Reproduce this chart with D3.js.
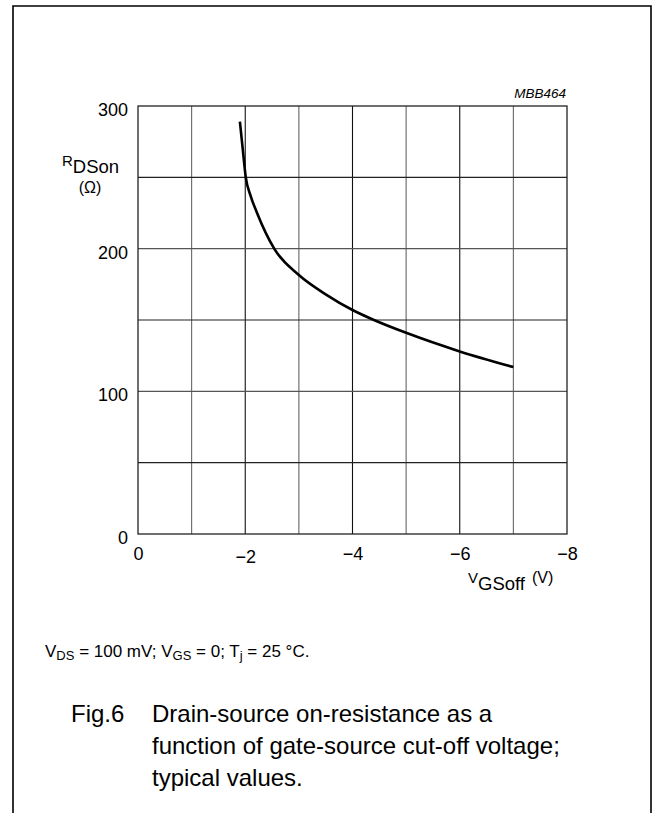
<!DOCTYPE html>
<html>
<head>
<meta charset="utf-8">
<script src="https://cdn.jsdelivr.net/npm/d3@7"></script>
<style>
  body { margin: 0; background: #fff; }
  svg { display: block; font-family: "Liberation Sans", Arial, sans-serif; }
</style>
</head>
<body>
<svg width="654" height="813"></svg>
<script>
// curve: V_GSoff (V) vs R_DSon (ohm)
var vgsoff = [-1.90, -1.95, -2.01, -2.10, -2.22, -2.54, -3.0, -3.5, -4.0, -4.4, -5.0, -6.0, -7.0];
var rdson  = [289, 271, 250, 237, 225, 200, 181.5, 168, 157, 150, 141, 128, 117];
var xTicks = [0, -2, -4, -6, -8];
var xTickLabels = ["0", "\u22122", "\u22124", "\u22126", "\u22128"];
var yTicks = [0, 100, 200, 300];
var yTickLabels = ["0", "100", "200", "300"];

var margin = {top: 106, right: 87, bottom: 279, left: 138},
    width = 654 - margin.left - margin.right,
    height = 813 - margin.top - margin.bottom;

var svg = d3.select("svg");

// outer frame, open at the bottom
svg.append("path")
    .attr("fill", "none")
    .attr("stroke", "#000")
    .attr("stroke-width", 1.6)
    .attr("d", "M13,813V6H651V813");

var g = svg.append("g")
    .attr("transform", "translate(" + margin.left + "," + margin.top + ")");

var x = d3.scaleLinear().domain([0, -8]).range([0, width]);
var y = d3.scaleLinear().domain([0, 300]).range([height, 0]);

// grid
g.append("g")
    .selectAll("line")
    .data(d3.range(-1, -8, -1))
    .enter().append("line")
    .attr("x1", function(d) { return x(d); })
    .attr("x2", function(d) { return x(d); })
    .attr("y1", 0)
    .attr("y2", height)
    .attr("stroke", function(d) { return d % 2 === 0 ? "#111" : "#666"; })
    .attr("stroke-width", 1.1);

g.append("g")
    .selectAll("line")
    .data(d3.range(50, 300, 50))
    .enter().append("line")
    .attr("x1", 0)
    .attr("x2", width)
    .attr("y1", function(d) { return y(d); })
    .attr("y2", function(d) { return y(d); })
    .attr("stroke", function(d) { return d % 100 === 0 ? "#555" : "#222"; })
    .attr("stroke-width", 1.1);

g.append("rect")
    .attr("width", width)
    .attr("height", height)
    .attr("fill", "none")
    .attr("stroke", "#222")
    .attr("stroke-width", 1.3);

// axes (labels only, the grid carries the ticks)
var xAxis = d3.axisBottom(x)
    .tickValues(xTicks)
    .tickSize(0)
    .tickPadding(0)
    .tickFormat(function(d, i) { return xTickLabels[i]; });

var xa = g.append("g")
    .attr("transform", "translate(0," + height + ")")
    .call(xAxis);
xa.select(".domain").remove();
xa.selectAll("text")
    .attr("font-family", "Liberation Sans, Arial, sans-serif")
    .attr("font-size", 18)
    .attr("fill", "#000")
    .attr("dy", null)
    .attr("y", function(d) { return d === -2 ? 29 : 26; });

var yAxis = d3.axisLeft(y)
    .tickValues(yTicks)
    .tickSize(0)
    .tickPadding(10)
    .tickFormat(function(d, i) { return yTickLabels[i]; });

var ya = g.append("g").call(yAxis);
ya.select(".domain").remove();
ya.selectAll("text")
    .attr("font-family", "Liberation Sans, Arial, sans-serif")
    .attr("font-size", 18)
    .attr("fill", "#000")
    .attr("dy", "0.52em");

// the curve
var pts = vgsoff.map(function(v, i) { return [v, rdson[i]]; });
var line = d3.line()
    .x(function(d) { return x(d[0]); })
    .y(function(d) { return y(d[1]); })
    .curve(d3.curveMonotoneX);

g.append("path")
    .attr("fill", "none")
    .attr("stroke", "#000")
    .attr("stroke-width", 2.6)
    .attr("stroke-linecap", "butt")
    .attr("d", line(pts));

// code label
svg.append("text")
    .attr("x", 566)
    .attr("y", 98)
    .attr("text-anchor", "end")
    .attr("font-size", 13.5)
    .attr("font-style", "italic")
    .text("MBB464");

// y axis title
var yt = svg.append("text").attr("x", 62).attr("y", 166);
yt.append("tspan").attr("font-size", 15).text("R");
yt.append("tspan").attr("font-size", 18.5).attr("dy", 7).text("DSon");
svg.append("text")
    .attr("x", 90)
    .attr("y", 193)
    .attr("text-anchor", "middle")
    .attr("font-size", 16)
    .text("(\u03A9)");

// x axis title
var xt = svg.append("text").attr("x", 468).attr("y", 583);
xt.append("tspan").attr("font-size", 15).text("V");
xt.append("tspan").attr("font-size", 18.5).attr("dy", 7).text("GSoff");
xt.append("tspan").attr("font-size", 16).attr("dy", -7).attr("dx", 7).text("(V)");

// conditions
var ct = svg.append("text").attr("x", 45).attr("y", 657).attr("font-size", 17);
ct.append("tspan").text("V");
ct.append("tspan").attr("font-size", 13).attr("dy", 3).text("DS");
ct.append("tspan").attr("dy", -3).text(" = 100 mV; V");
ct.append("tspan").attr("font-size", 13).attr("dy", 3).text("GS");
ct.append("tspan").attr("dy", -3).text(" = 0; T");
ct.append("tspan").attr("font-size", 13).attr("dy", 3).text("j");
ct.append("tspan").attr("dy", -3).text(" = 25 \u00B0C.");

// caption
var cap = svg.append("g").attr("font-size", 24);
cap.append("text").attr("x", 71).attr("y", 722).text("Fig.6");
var capLines = ["Drain-source on-resistance as a",
                "function of gate-source cut-off voltage;",
                "typical values."];
cap.selectAll("text.l")
    .data(capLines)
    .enter().append("text")
    .attr("class", "l")
    .attr("x", 152)
    .attr("y", function(d, i) { return 722 + i * 32; })
    .text(function(d) { return d; });
</script>
</body>
</html>
